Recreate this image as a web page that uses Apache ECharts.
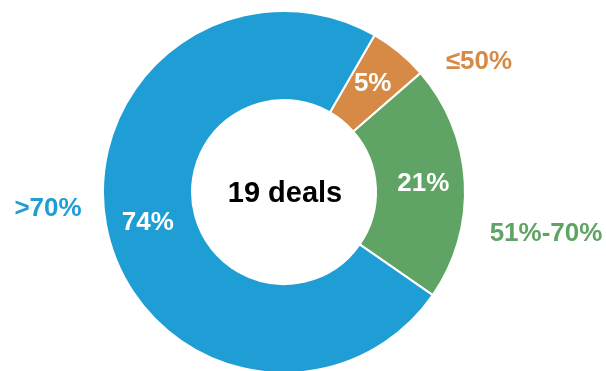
<!DOCTYPE html>
<html>
<head>
<meta charset="utf-8">
<script src="https://cdn.jsdelivr.net/npm/echarts@6/dist/echarts.min.js"></script>
<style>
  html, body { margin: 0; padding: 0; background: #fff; }
  #chart { width: 606px; height: 371px; }
</style>
</head>
<body>
<div id="chart"></div>
<script>
// ---- data ----
const categories = ['≤50%', '51%-70%', '>70%'];
const dealCounts = [1, 4, 14];
const totalDeals = 19;
const centerLabel = totalDeals + ' deals';

// ---- styles ----
const colors = ['#D68A45', '#5FA464', '#1E9ED4'];
const outerLabelPos = [[479, 62], [546, 234], [48, 209]];
const FONT = '"Liberation Sans", Arial, sans-serif';

const chart = echarts.init(document.getElementById('chart'), null, { renderer: 'canvas' });

const donutData = categories.map((c, i) => ({
  name: c,
  value: dealCounts[i],
  itemStyle: { color: colors[i] }
}));
const labelData = categories.map((c, i) => ({
  name: c,
  value: dealCounts[i],
  itemStyle: { color: 'rgba(0,0,0,0)' },
  label: { color: colors[i] }
}));

chart.setOption({
  animation: false,
  backgroundColor: '#ffffff',
  series: [
    {
      type: 'pie',
      center: [284, 192],
      radius: [92, 181],
      startAngle: 60,
      clockwise: true,
      avoidLabelOverlap: false,
      silent: true,
      itemStyle: { borderColor: '#ffffff', borderWidth: 2 },
      label: {
        show: true,
        position: 'inside',
        color: '#ffffff',
        fontFamily: FONT,
        fontWeight: 'bold',
        fontSize: 26,
        formatter: p => Math.round(p.percent) + '%'
      },
      labelLine: { show: false },
      data: donutData
    },
    {
      type: 'pie',
      center: [284, 192],
      radius: [92, 181],
      startAngle: 60,
      clockwise: true,
      avoidLabelOverlap: false,
      silent: true,
      z: 3,
      itemStyle: { borderWidth: 0 },
      label: {
        show: true,
        position: 'outside',
        fontFamily: FONT,
        fontWeight: 'bold',
        fontSize: 26,
        formatter: p => p.name
      },
      labelLine: { show: false },
      labelLayout: function (params) {
        const pos = outerLabelPos[params.dataIndex];
        return { x: pos[0], y: pos[1], align: 'center', verticalAlign: 'middle' };
      },
      data: labelData
    }
  ],
  graphic: [
    {
      type: 'text',
      x: 285,
      y: 194,
      style: {
        text: centerLabel,
        align: 'center',
        verticalAlign: 'middle',
        fill: '#000000',
        font: 'bold 29px ' + FONT
      }
    }
  ]
});
</script>
</body>
</html>
